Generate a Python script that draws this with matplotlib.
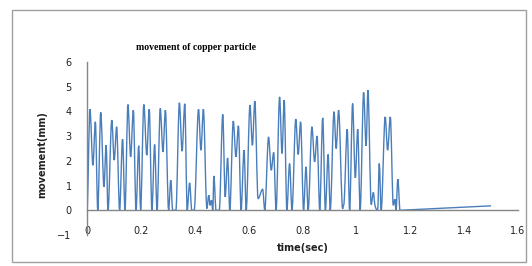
import matplotlib
matplotlib.use("Agg")
import matplotlib.pyplot as plt
from matplotlib.path import Path
from matplotlib.patches import PathPatch, Rectangle

# time (sec) and movement (mm)
t = [0.000, 0.011, 0.022, 0.031, 0.040, 0.051, 0.063, 0.071, 0.078, 0.092,
     0.101, 0.110, 0.121, 0.132, 0.141, 0.152, 0.162, 0.172, 0.182, 0.192,
     0.199, 0.211, 0.222, 0.231, 0.241, 0.251, 0.260, 0.272, 0.282, 0.291,
     0.303, 0.311, 0.318, 0.330, 0.343, 0.353, 0.363, 0.372, 0.381, 0.389,
     0.398, 0.414, 0.423, 0.432, 0.445, 0.452, 0.457, 0.462, 0.467, 0.471,
     0.479, 0.491, 0.504, 0.513, 0.522, 0.530, 0.543, 0.553, 0.562, 0.572,
     0.583, 0.591, 0.605, 0.614, 0.623, 0.635, 0.652, 0.660, 0.674, 0.684,
     0.693, 0.702, 0.715, 0.724, 0.732, 0.742, 0.752, 0.761, 0.775, 0.784,
     0.793, 0.804, 0.813, 0.821, 0.835, 0.845, 0.854, 0.864, 0.875, 0.885,
     0.895, 0.903, 0.917, 0.925, 0.934, 0.947, 0.953, 0.966, 0.975, 0.986,
     0.996, 1.005, 1.014, 1.027, 1.036, 1.043, 1.055, 1.063, 1.069, 1.079,
     1.085, 1.092, 1.107, 1.116, 1.126, 1.137, 1.143, 1.147, 1.154, 1.162,
     1.500]
movement = [0.00, 4.09, 1.82, 3.58, 0.00, 3.96, 0.95, 2.63, 0.00, 3.65,
            2.03, 3.38, 0.00, 2.88, 0.00, 4.28, 2.16, 4.05, 0.00, 2.61,
            0.00, 4.28, 2.23, 4.09, 0.00, 2.66, 0.00, 4.12, 2.36, 4.05,
            0.00, 1.22, 0.00, 0.00, 4.35, 2.39, 4.31, 0.00, 1.11, 0.00,
            0.00, 4.09, 2.43, 4.09, 0.07, 0.61, 0.20, 0.41, 0.00, 1.39,
            0.00, 0.00, 3.88, 0.54, 2.12, 0.00, 3.61, 2.16, 3.42, 0.00,
            2.43, 0.00, 4.26, 2.63, 4.42, 0.47, 0.85, 0.00, 2.97, 1.62,
            2.34, 0.00, 4.59, 2.30, 4.46, 0.00, 1.89, 0.00, 3.69, 2.26,
            3.58, 0.00, 1.76, 0.00, 3.38, 1.96, 3.01, 0.00, 3.74, 0.00,
            2.26, 0.00, 3.99, 2.50, 4.05, 0.25, 0.22, 3.28, 0.00, 4.32,
            1.31, 3.28, 0.00, 4.77, 2.61, 4.86, 0.23, 0.72, 0.20, 0.00,
            1.89, 0.00, 3.78, 2.43, 3.78, 0.20, 0.45, 0.00, 1.26, 0.00,
            0.18]

x_ticks = [0, 0.2, 0.4, 0.6, 0.8, 1.0, 1.2, 1.4, 1.6]
x_labels = ["0", "0.2", "0.4", "0.6", "0.8", "1", "1.2", "1.4", "1.6"]
y_ticks = [-1, 0, 1, 2, 3, 4, 5, 6]


def smooth_path(xs, ys):
    # smoothed line like Excel's, flat tangent at turning points so it doesn't overshoot
    n = len(xs)
    slopes = []
    for i in range(n):
        if i == 0:
            slopes.append(0.0)
        elif i == n - 1:
            slopes.append((ys[i] - ys[i - 1]) / (xs[i] - xs[i - 1]))
        else:
            d0 = ys[i] - ys[i - 1]
            d1 = ys[i + 1] - ys[i]
            if d0 * d1 <= 0:
                slopes.append(0.0)
            else:
                slopes.append((ys[i + 1] - ys[i - 1]) / (xs[i + 1] - xs[i - 1]))
    # last leg is a plain straight run
    slopes[n - 2] = slopes[n - 1] if ys[n - 2] == 0 and ys[n - 3] > 0 else slopes[n - 2]
    verts = [(xs[0], ys[0])]
    codes = [Path.MOVETO]
    for i in range(n - 1):
        h = xs[i + 1] - xs[i]
        verts += [(xs[i] + h / 3, ys[i] + slopes[i] * h / 3),
                  (xs[i + 1] - h / 3, ys[i + 1] - slopes[i + 1] * h / 3),
                  (xs[i + 1], ys[i + 1])]
        codes += [Path.CURVE4] * 3
    return Path(verts, codes)


fig = plt.figure(figsize=(5.32, 2.66), dpi=100)
ax = fig.add_axes([87 / 532, 1 - 235 / 266, 431 / 532, 173 / 266])

ax.add_patch(PathPatch(smooth_path(t, movement), fill=False,
                       edgecolor="#4a7ebb", linewidth=1.0))

ax.set_xlim(0, 1.6)
ax.set_ylim(-1, 6)
ax.set_xticks(x_ticks)
ax.set_xticklabels(x_labels)
ax.set_yticks(y_ticks)

ax.spines["top"].set_visible(False)
ax.spines["right"].set_visible(False)
ax.spines["bottom"].set_position(("data", 0))
for s in ("left", "bottom"):
    ax.spines[s].set_color("#868686")
    ax.spines[s].set_linewidth(1.0)
ax.tick_params(axis="x", length=0, pad=11, labelsize=7, labelcolor="#222222")
ax.tick_params(axis="y", length=0, pad=11, labelsize=7, labelcolor="#222222")

fig.text(196 / 532, 1 - 47 / 266, "movement of copper particle",
         fontsize=7, fontweight="bold", family="Liberation Serif",
         ha="center", va="center")
fig.text(42 / 532, 1 - 155 / 266, "movement(mm)", rotation=90,
         fontsize=7, fontweight="bold", ha="center", va="center", color="#222222")
fig.text(303 / 532, 1 - 248 / 266, "time(sec)",
         fontsize=7, fontweight="bold", ha="center", va="center", color="#222222")

fig.patches.append(Rectangle((12 / 532, 1 - 262 / 266), 514 / 532, 252 / 266,
                             transform=fig.transFigure, fill=False,
                             edgecolor="#a0a0a0", linewidth=1.0))

fig.savefig("out.png", dpi=100)
